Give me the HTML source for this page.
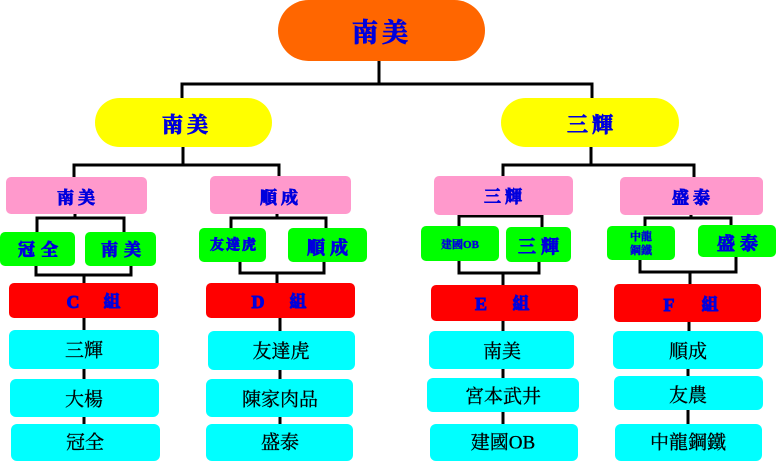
<!DOCTYPE html>
<html><head><meta charset="utf-8">
<style>
html,body{margin:0;padding:0;background:#fff;width:776px;height:461px;overflow:hidden}
svg{display:block}
.b{font-family:"Liberation Serif","Noto Serif CJK SC",serif;font-weight:bold;fill:#0000dd;stroke:#0000dd;stroke-width:0.9;paint-order:stroke;text-anchor:middle;dominant-baseline:central}
.s{stroke-width:0.4}
.k{font-family:"Liberation Serif","Noto Serif CJK SC",serif;fill:#000;stroke:#000;stroke-width:0.3;text-anchor:middle;dominant-baseline:central;font-size:19px}
</style></head>
<body>
<svg width="776" height="461" viewBox="0 0 776 461" xmlns="http://www.w3.org/2000/svg">
<g stroke="#000" stroke-width="3" fill="none" stroke-linecap="square">
<path d="M379 61V84M182 84H592M182 84V98M592 84V98"/>
<path d="M183 147V165M74 165H279M74 165V177M279 165V176"/>
<path d="M591 147V165M503 165H694M503 165V176M694 165V177"/>
<path d="M75 214V218M37 218H124M37 218V232M124 218V232"/>
<path d="M36 266V275M131 266V275M36 275H131M84 275V283"/>
<path d="M84 318V330M84 369V379M84 417V424"/>
<path d="M277 214V218M231 218H326M231 218V228M326 218V228"/>
<path d="M240 262V273M324 262V273M240 273H324M277 273V283"/>
<path d="M280 318V331M280 370V379M280 417V424"/>
<path d="M503 214V216M459 216H542M459 216V226M542 216V227"/>
<path d="M459 261V273M539 262V273M459 273H539M503 273V285"/>
<path d="M503 321V331M503 369V378M503 412V424"/>
<path d="M691 215V218M645 218H731M645 218V226M731 218V225"/>
<path d="M640 260V272M736 257V272M640 272H736M690 272V284"/>
<path d="M689 322V331M688 369V376M688 410V424"/>
</g>
<!-- root -->
<rect x="278" y="0" width="207" height="61" rx="30.5" fill="#ff6600"/>
<text class="b" x="382" y="33" font-size="26" letter-spacing="4">南美</text>
<!-- yellow -->
<rect x="95" y="98" width="177" height="49" rx="24.5" fill="#ffff00"/>
<text class="b" x="187" y="125" font-size="21" letter-spacing="4">南美</text>
<rect x="501" y="98" width="178" height="49" rx="24.5" fill="#ffff00"/>
<text class="b" x="592" y="125" font-size="21" letter-spacing="4">三輝</text>
<!-- pink -->
<rect x="6" y="177" width="141" height="37" rx="5" fill="#ff99cc"/>
<text class="b" x="78" y="198" font-size="17" letter-spacing="4">南美</text>
<rect x="210" y="176" width="141" height="38" rx="5" fill="#ff99cc"/>
<text class="b" x="281" y="198" font-size="17" letter-spacing="4">順成</text>
<rect x="434" y="176" width="139" height="39" rx="5" fill="#ff99cc"/>
<text class="b" x="505" y="197" font-size="17" letter-spacing="4">三輝</text>
<rect x="620" y="177" width="143" height="38" rx="5" fill="#ff99cc"/>
<text class="b" x="693" y="198" font-size="17" letter-spacing="4">盛泰</text>
<!-- green -->
<rect x="0" y="232" width="75" height="34" rx="5" fill="#00ff00"/>
<text class="b" x="41" y="250" font-size="17" letter-spacing="6">冠全</text>
<rect x="85" y="232" width="71" height="34" rx="5" fill="#00ff00"/>
<text class="b" x="124" y="250" font-size="17" letter-spacing="6">南美</text>
<rect x="199" y="228" width="67" height="34" rx="5" fill="#00ff00"/>
<text class="b" x="234" y="246" font-size="14" letter-spacing="2">友達虎</text>
<rect x="288" y="228" width="79" height="34" rx="5" fill="#00ff00"/>
<text class="b" x="330" y="248" font-size="18" letter-spacing="5">順成</text>
<rect x="421" y="226" width="78" height="35" rx="5" fill="#00ff00"/>
<text class="b s" x="460" y="245" font-size="11">建國OB</text>
<rect x="506" y="227" width="65" height="35" rx="5" fill="#00ff00"/>
<text class="b" x="541" y="247" font-size="18" letter-spacing="5">三輝</text>
<rect x="607" y="226" width="68" height="34" rx="5" fill="#00ff00"/>
<text class="b s" x="641" y="237" font-size="11">中龍</text>
<text class="b s" x="641" y="251" font-size="11">鋼鐵</text>
<rect x="698" y="225" width="78" height="32" rx="5" fill="#00ff00"/>
<text class="b" x="740" y="244" font-size="18" letter-spacing="5">盛泰</text>
<!-- red -->
<rect x="9" y="283" width="149" height="35" rx="5" fill="#ff0000"/>
<text class="b" x="73" y="302" font-size="18">C</text>
<text class="b" x="112" y="302" font-size="17">組</text>
<rect x="206" y="283" width="149" height="35" rx="5" fill="#ff0000"/>
<text class="b" x="258" y="302" font-size="18">D</text>
<text class="b" x="298" y="302" font-size="17">組</text>
<rect x="431" y="285" width="147" height="36" rx="5" fill="#ff0000"/>
<text class="b" x="481" y="304" font-size="18">E</text>
<text class="b" x="521" y="304" font-size="17">組</text>
<rect x="614" y="284" width="147" height="38" rx="5" fill="#ff0000"/>
<text class="b" x="669" y="305" font-size="18">F</text>
<text class="b" x="710" y="305" font-size="17">組</text>
<!-- cyan -->
<rect x="9" y="330" width="150" height="39" rx="6" fill="#00ffff"/>
<text class="k" x="84" y="351">三輝</text>
<rect x="10" y="379" width="149" height="38" rx="6" fill="#00ffff"/>
<text class="k" x="84" y="400">大楊</text>
<rect x="11" y="424" width="149" height="37" rx="6" fill="#00ffff"/>
<text class="k" x="85" y="443">冠全</text>

<rect x="208" y="331" width="147" height="39" rx="6" fill="#00ffff"/>
<text class="k" x="281" y="352">友達虎</text>
<rect x="206" y="379" width="147" height="38" rx="6" fill="#00ffff"/>
<text class="k" x="280" y="400">陳家肉品</text>
<rect x="206" y="424" width="147" height="37" rx="6" fill="#00ffff"/>
<text class="k" x="280" y="443">盛泰</text>

<rect x="429" y="331" width="145" height="38" rx="6" fill="#00ffff"/>
<text class="k" x="502" y="352">南美</text>
<rect x="427" y="378" width="152" height="34" rx="6" fill="#00ffff"/>
<text class="k" x="503" y="397">宮本武井</text>
<rect x="430" y="424" width="148" height="37" rx="6" fill="#00ffff"/>
<text class="k" x="503" y="443">建國OB</text>

<rect x="613" y="331" width="150" height="38" rx="6" fill="#00ffff"/>
<text class="k" x="688" y="352">順成</text>
<rect x="614" y="376" width="149" height="34" rx="6" fill="#00ffff"/>
<text class="k" x="688" y="396">友農</text>
<rect x="615" y="424" width="147" height="37" rx="6" fill="#00ffff"/>
<text class="k" x="688" y="443">中龍鋼鐵</text>
</svg>
</body></html>
